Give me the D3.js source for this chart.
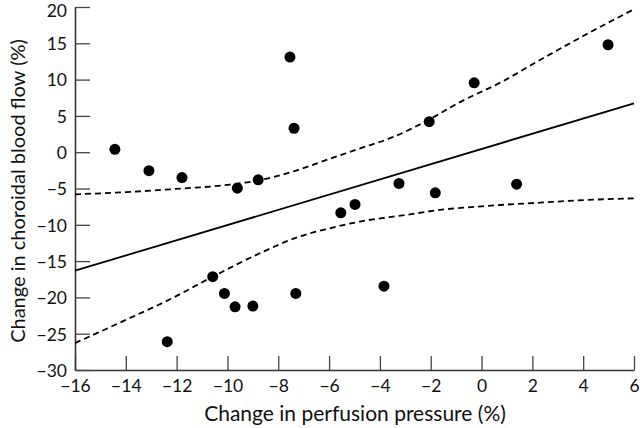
<!DOCTYPE html>
<html><head><meta charset="utf-8">
<script src="https://cdn.jsdelivr.net/npm/d3@7"></script>
<style>body{margin:0;background:#fff}svg{display:block}text{font-family:Lato,"Open Sans",sans-serif;fill:#111}</style>
</head><body><svg id="c" width="640" height="428"></svg>
<script>
// Data
const pressureChange = [-14.43,-13.09,-11.79,-9.61,-8.79,-7.54,-7.38,-5.54,-4.98,-3.25,-2.06,-1.82,-0.29,1.38,4.98,-10.58,-10.12,-9.70,-9.00,-7.31,-3.84,-12.37];
const flowChange     = [0.4,-2.55,-3.5,-4.95,-3.8,13.1,3.3,-8.35,-7.2,-4.3,4.2,-5.6,9.55,-4.4,14.8,-17.15,-19.45,-21.3,-21.2,-19.45,-18.45,-26.1];
const fitX = [-16, 6];
const fitY = [-16.32, 6.73];
const upperX = [-16,-14,-12.26,-10,-8.85,-7.5,-6.1,-4.8,-3.47,-2.06,-0.85,0.8,2.3,4,6];
const upperY = [-5.8,-5.5,-5.11,-4.5,-3.93,-2.75,-1.07,0.5,2.1,4.5,6.9,9.7,12.7,16.0,19.7];
const lowerX = [-16,-14,-12.26,-10.58,-8.59,-7.15,-6,-4.78,-3,-1.64,0,2.3,4,6];
const lowerY = [-26.3,-23.1,-20.26,-17.15,-13.7,-11.6,-10.5,-9.55,-8.65,-7.95,-7.45,-6.95,-6.6,-6.35];
const xTicks = [-16,-14,-12,-10,-8,-6,-4,-2,0,2,4,6];
const yTicks = [-30,-25,-20,-15,-10,-5,0,5,10,15,20];
const xTitle = "Change in perfusion pressure (%)";
const yTitle = "Change in choroidal blood flow (%)";

const svg = d3.select("#c");
const x = d3.scaleLinear().domain([-16,6]).range([75,634]);
const y = d3.scaleLinear().domain([-30,20]).range([370,7]);
const fmt = d3.format("d");

const gx = svg.append("g").attr("transform","translate(0,370)")
  .call(d3.axisBottom(x).tickValues(xTicks).tickFormat(fmt).tickSizeInner(-14).tickSizeOuter(0).tickPadding(8));
const gy = svg.append("g").attr("transform","translate(75,0)")
  .call(d3.axisLeft(y).tickValues(yTicks).tickFormat(fmt).tickSizeInner(-15).tickSizeOuter(0).tickPadding(8));
[gx,gy].forEach(g=>{
  g.select(".domain").attr("stroke","#333").attr("stroke-width",1.6);
  g.selectAll(".tick line").attr("stroke","#444").attr("stroke-width",1.3);
  g.selectAll(".tick text").attr("font-size",17.5).attr("fill","#111").style("font-family","Lato, sans-serif");
});
gy.selectAll(".tick text").attr("x",-8).attr("dy","0.36em");
gy.selectAll(".tick text").filter(d=>d===20).attr("dy","0.55em");
gx.selectAll(".tick text").attr("y",10);

const line = d3.line().x(d=>x(d[0])).y(d=>y(d[1]));
const cline = d3.line().x(d=>x(d[0])).y(d=>y(d[1])).curve(d3.curveMonotoneX);

svg.append("path").attr("d",line(d3.zip(fitX,fitY))).attr("fill","none").attr("stroke","#000").attr("stroke-width",1.8);
svg.append("path").attr("d",cline(d3.zip(upperX,upperY))).attr("fill","none").attr("stroke","#000").attr("stroke-width",1.8).attr("stroke-dasharray","6,4");
svg.append("path").attr("d",cline(d3.zip(lowerX,lowerY))).attr("fill","none").attr("stroke","#000").attr("stroke-width",1.8).attr("stroke-dasharray","6,4");

svg.append("g").selectAll("circle").data(d3.zip(pressureChange,flowChange)).join("circle")
  .attr("cx",d=>x(d[0])).attr("cy",d=>y(d[1])).attr("r",5.5).attr("fill","#000");

svg.append("text").attr("x",355).attr("y",421).attr("text-anchor","middle").attr("font-size",21).text(xTitle);
svg.append("text").attr("transform","translate(25,191) rotate(-90)").attr("text-anchor","middle").attr("font-size",20).text(yTitle);
</script></body></html>
